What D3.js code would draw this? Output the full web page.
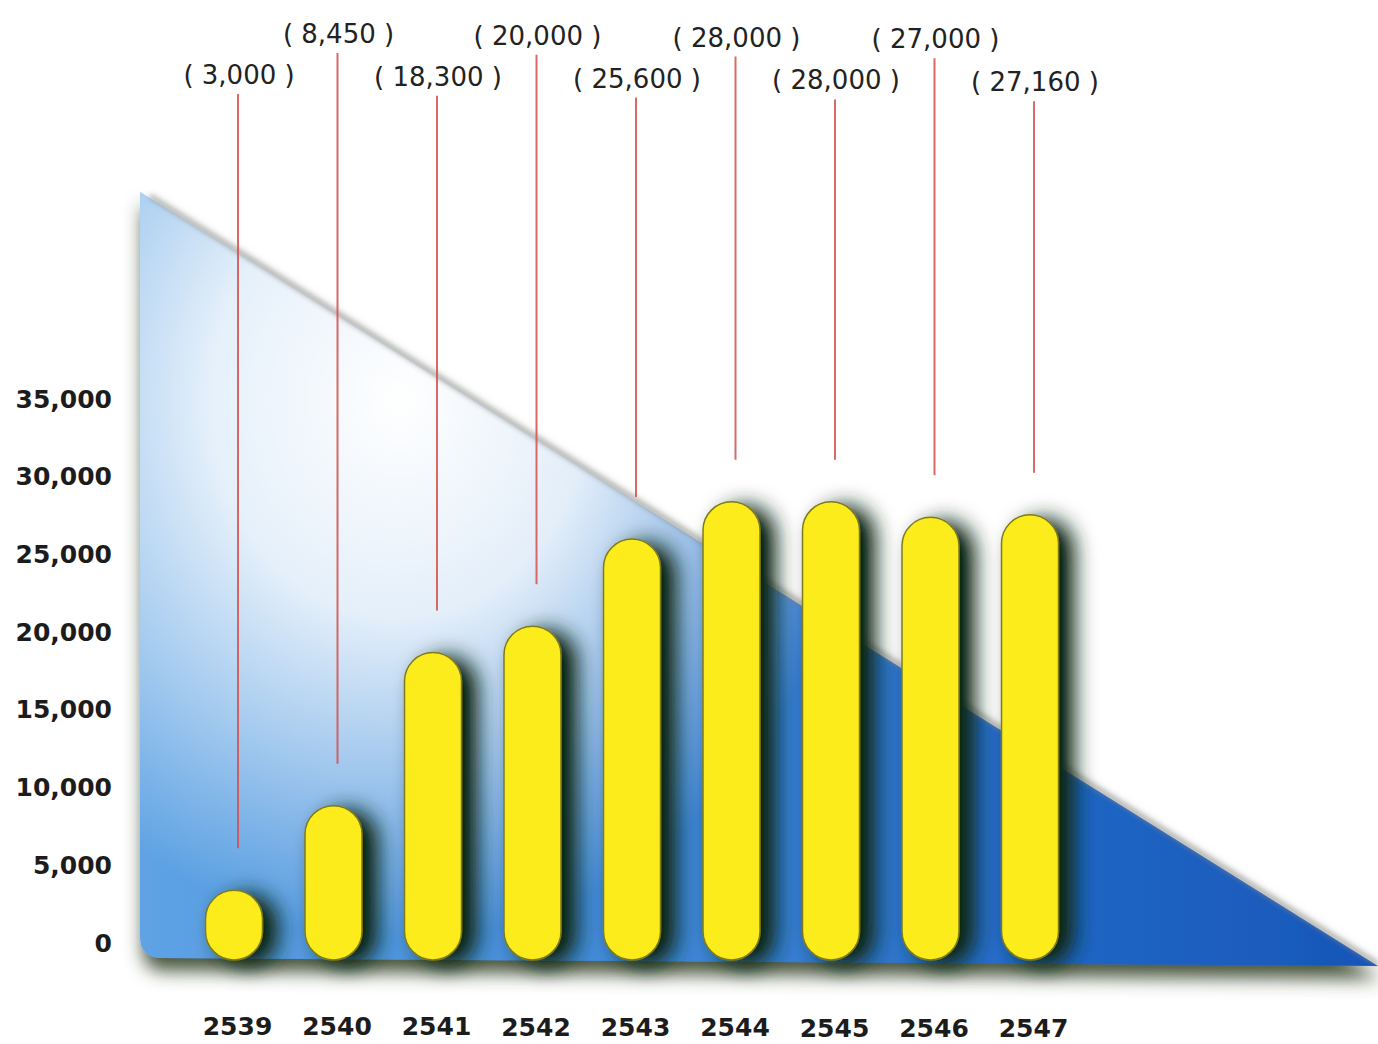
<!DOCTYPE html>
<html>
<head>
<meta charset="utf-8">
<script src="https://cdn.jsdelivr.net/npm/d3@7"></script>
<style>
  body { margin: 0; background: #fff; }
  svg { display: block; }
</style>
</head>
<body>
<script>
// data
const years = ["2539", "2540", "2541", "2542", "2543", "2544", "2545", "2546", "2547"];
const values = [3000, 8450, 18300, 20000, 25600, 28000, 28000, 27000, 27160];
const valueLabels = ["( 3,000 )", "( 8,450 )", "( 18,300 )", "( 20,000 )", "( 25,600 )",
                     "( 28,000 )", "( 28,000 )", "( 27,000 )", "( 27,160 )"];
const yTicks = [0, 5000, 10000, 15000, 20000, 25000, 30000, 35000];

const width = 1378;
const height = 1044;

const barWidth = 57;
const barBottom = 960;   // pills run a little below the zero line
const barLift = 6;
const lineGap = 42;      // gap between leader line end and pill top

const x = d3.scalePoint().domain(years).range([234, 1030]);
const y = d3.scaleLinear().domain([0, 35000]).range([943, 399]);

const svg = d3.select("body").append("svg")
    .attr("width", width)
    .attr("height", height);

const defs = svg.append("defs");

// background colours
const baseGrad = defs.append("linearGradient")
    .attr("id", "baseGrad")
    .attr("gradientUnits", "userSpaceOnUse")
    .attr("x1", 140).attr("y1", 0).attr("x2", 1378).attr("y2", 0);
[["0", "#5ea3e4"], ["0.45", "#3c86d6"], ["0.75", "#2066c4"], ["1", "#1756b8"]].forEach(s => {
    baseGrad.append("stop").attr("offset", s[0]).attr("stop-color", s[1]);
});

const glow = defs.append("radialGradient")
    .attr("id", "glow")
    .attr("gradientUnits", "userSpaceOnUse")
    .attr("cx", 400).attr("cy", 400).attr("r", 470)
    .attr("gradientTransform", "translate(400,400) scale(1,1.15) translate(-400,-400)");
[["0", 1], ["0.4", 0.85], ["0.7", 0.45], ["1", 0]].forEach(s => {
    glow.append("stop").attr("offset", s[0]).attr("stop-color", "#fff").attr("stop-opacity", s[1]);
});

const triShadow = defs.append("filter").attr("id", "triShadow")
    .attr("x", "-10%").attr("y", "-10%").attr("width", "120%").attr("height", "130%");
triShadow.append("feDropShadow")
    .attr("dx", 3).attr("dy", 13).attr("stdDeviation", 9)
    .attr("flood-color", "#34422a").attr("flood-opacity", 0.9);

// soft wide shadow on the right of each pill
const barShadow = defs.append("filter").attr("id", "barShadow")
    .attr("filterUnits", "userSpaceOnUse")
    .attr("x", 0).attr("y", 0).attr("width", width).attr("height", height);
barShadow.append("feGaussianBlur").attr("in", "SourceAlpha").attr("stdDeviation", 11).attr("result", "b");
barShadow.append("feOffset").attr("in", "b").attr("dx", 14).attr("dy", 5).attr("result", "o");
barShadow.append("feFlood").attr("flood-color", "#102a1a").attr("result", "c");
barShadow.append("feComposite").attr("in", "c").attr("in2", "o").attr("operator", "in").attr("result", "s");
const ct = barShadow.append("feComponentTransfer").attr("in", "s").attr("result", "s2");
ct.append("feFuncA").attr("type", "linear").attr("slope", 1.15);
const merge = barShadow.append("feMerge");
merge.append("feMergeNode").attr("in", "s2");
merge.append("feMergeNode").attr("in", "SourceGraphic");

const soft = defs.append("filter").attr("id", "soft");
soft.append("feGaussianBlur").attr("stdDeviation", 2.5);

// the big triangle behind the bars
const tri = "M140,192 L1378,966 L162,958 Q140,958 140,936 Z";
svg.append("path").attr("d", tri).attr("fill", "url(#baseGrad)").attr("filter", "url(#triShadow)");
svg.append("path").attr("d", tri).attr("fill", "url(#glow)");
svg.append("line")
    .attr("x1", 150).attr("y1", 196).attr("x2", 1378).attr("y2", 964)
    .attr("stroke", "#8a8a8a").attr("stroke-width", 5).attr("opacity", 0.6)
    .attr("filter", "url(#soft)");

// leader lines
const rowBase = i => (i % 2 ? 42 : 84) + i * 0.9;

svg.append("g").selectAll("line")
    .data(values)
    .join("line")
    .attr("x1", (d, i) => x(years[i]) + 4)
    .attr("x2", (d, i) => x(years[i]) + 4)
    .attr("y1", (d, i) => rowBase(i) + 10)
    .attr("y2", d => y(d) - barLift - lineGap)
    .attr("stroke", "#d4504c")
    .attr("stroke-width", 2)
    .attr("opacity", 0.85);

// pills
svg.append("g").selectAll("rect")
    .data(values)
    .join("rect")
    .attr("x", (d, i) => x(years[i]) - barWidth / 2)
    .attr("y", d => y(d) - barLift)
    .attr("width", barWidth)
    .attr("height", d => barBottom - (y(d) - barLift))
    .attr("rx", barWidth / 2)
    .attr("ry", barWidth / 2)
    .attr("fill", "#fcec1c")
    .attr("stroke", "#7d7a1c")
    .attr("stroke-width", 1.5)
    .attr("filter", "url(#barShadow)");

// value labels on two rows
svg.append("g").selectAll("text")
    .data(valueLabels)
    .join("text")
    .attr("x", (d, i) => x(years[i]) + 5)
    .attr("y", (d, i) => rowBase(i))
    .attr("text-anchor", "middle")
    .style("font-family", "'DejaVu Sans', sans-serif")
    .style("font-size", "26px")
    .style("fill", "#222")
    .text(d => d);

// y axis
const yAxis = svg.append("g")
    .attr("transform", "translate(112,0)")
    .call(d3.axisLeft(y).tickValues(yTicks).tickFormat(d3.format(",")).tickSize(0).tickPadding(0));
yAxis.select(".domain").remove();
yAxis.selectAll("text")
    .style("font-family", "'DejaVu Sans', sans-serif")
    .style("font-weight", "bold")
    .style("font-size", "25px")
    .style("fill", "#1c1c1c");

// x axis
const xAxis = svg.append("g")
    .attr("transform", "translate(3,1017)")
    .call(d3.axisBottom(x).tickSize(0).tickPadding(0));
xAxis.select(".domain").remove();
xAxis.selectAll("text")
    .attr("dy", (d, i) => (0.71 + i * 0.012) + "em")
    .style("font-family", "'DejaVu Sans', sans-serif")
    .style("font-weight", "bold")
    .style("font-size", "25px")
    .style("fill", "#1c1c1c");
</script>
</body>
</html>
